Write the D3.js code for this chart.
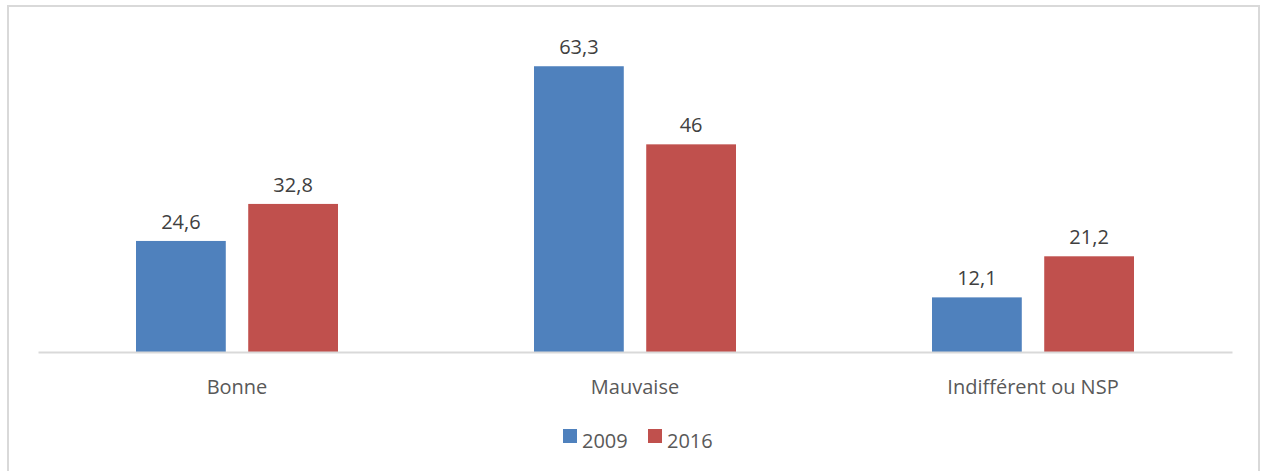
<!DOCTYPE html>
<html>
<head>
<meta charset="utf-8">
<script src="https://cdn.jsdelivr.net/npm/d3@7"></script>
<style>
  body { margin: 0; background: #fff; }
  svg text { font-family: "Open Sans", sans-serif; }
</style>
</head>
<body>
<svg id="chart" width="1261" height="471"></svg>
<script>
var categories = ["Bonne", "Mauvaise", "Indifférent ou NSP"];
var seriesNames = ["2009", "2016"];
var values2009 = [24.6, 63.3, 12.1];
var values2016 = [32.8, 46, 21.2];
var colors = ["#4f81bd", "#c0504d"];

var svg = d3.select("#chart");

// chart frame
svg.append("rect")
    .attr("x", 8).attr("y", 6)
    .attr("width", 1251).attr("height", 470)
    .attr("fill", "none")
    .attr("stroke", "#d9d9d9")
    .attr("stroke-width", 2);

var x0 = d3.scaleBand().domain(categories).range([38, 1232]);
var x1 = d3.scaleBand().domain(seriesNames).range([98, 300]).paddingInner(0.2);
var y = d3.scaleLinear().domain([0, 70]).range([352, 36]);

var data = categories.map(function(c, i) {
  return { cat: c, vals: [values2009[i], values2016[i]] };
});

var fmt = function(v) { return String(v).replace(".", ","); };

var groups = svg.selectAll(".grp")
  .data(data)
  .enter().append("g")
    .attr("class", "grp")
    .attr("transform", function(d) { return "translate(" + x0(d.cat) + ",0)"; });

groups.selectAll("rect")
  .data(function(d) { return d.vals.map(function(v, j) { return { s: seriesNames[j], v: v, j: j }; }); })
  .enter().append("rect")
    .attr("x", function(d) { return x1(d.s); })
    .attr("y", function(d) { return y(d.v); })
    .attr("width", x1.bandwidth())
    .attr("height", function(d) { return y(0) - y(d.v); })
    .attr("fill", function(d) { return colors[d.j]; });

groups.selectAll(".lbl")
  .data(function(d) { return d.vals.map(function(v, j) { return { s: seriesNames[j], v: v }; }); })
  .enter().append("text")
    .attr("class", "lbl")
    .attr("x", function(d) { return x1(d.s) + x1.bandwidth() / 2; })
    .attr("y", function(d) { return y(d.v) - 12; })
    .attr("text-anchor", "middle")
    .attr("font-size", 20)
    .attr("fill", "#404040")
    .text(function(d) { return fmt(d.v); });

// x axis
var xAxis = svg.append("g")
    .attr("transform", "translate(0," + y(0) + ")")
    .call(d3.axisBottom(x0).tickSize(0).tickPadding(28));
xAxis.select(".domain").attr("stroke", "#d9d9d9").attr("stroke-width", 2);
xAxis.selectAll("text")
    .attr("font-size", 20)
    .attr("fill", "#595959")
    .style("font-family", "'Open Sans', sans-serif");

// legend
var legend = svg.append("g").attr("transform", "translate(563,429)");
var items = [{ n: seriesNames[0], x: 0 }, { n: seriesNames[1], x: 85 }];
items.forEach(function(it, j) {
  legend.append("rect")
      .attr("x", it.x).attr("y", 0)
      .attr("width", 14).attr("height", 14)
      .attr("fill", colors[j]);
  legend.append("text")
      .attr("x", it.x + 19).attr("y", 19)
      .attr("font-size", 20)
      .attr("fill", "#595959")
      .text(it.n);
});
</script>
</body>
</html>
